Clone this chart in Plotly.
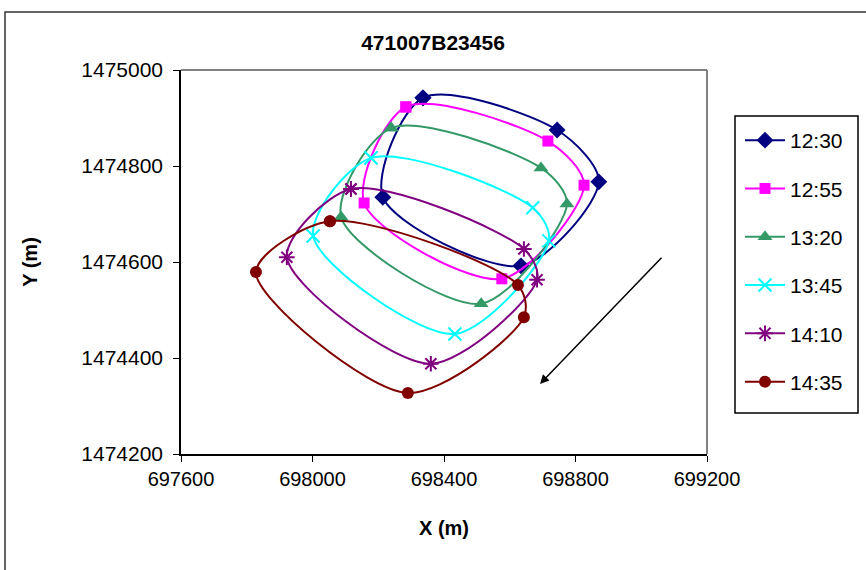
import plotly.graph_objects as go

# ---- data ----
series_names = ["12:30", "12:55", "13:20", "13:45", "14:10", "14:35"]

x_1230 = [698336, 698744, 698871, 698634, 698214, 698336]
y_1230 = [1474942, 1474875, 1474767, 1474592, 1474735, 1474942]

x_1255 = [698284, 698716, 698826, 698576, 698157, 698284]
y_1255 = [1474923, 1474852, 1474760, 1474565, 1474723, 1474923]

x_1320 = [698239, 698695, 698774, 698513, 698087, 698239]
y_1320 = [1474879, 1474796, 1474721, 1474513, 1474694, 1474879]

x_1345 = [698178, 698670, 698719, 698433, 698002, 698178]
y_1345 = [1474817, 1474713, 1474644, 1474450, 1474654, 1474817]

x_1410 = [698117, 698643, 698683, 698360, 697922, 698117]
y_1410 = [1474752, 1474627, 1474563, 1474388, 1474610, 1474752]

x_1435 = [698053, 698625, 698643, 698290, 697828, 698053]
y_1435 = [1474685, 1474552, 1474485, 1474327, 1474579, 1474685]

x_ticks = [697600, 698000, 698400, 698800, 699200]
y_ticks = [1474200, 1474400, 1474600, 1474800, 1475000]

arrow_start = (699066, 1474612)
arrow_end = (698692, 1474346)

# ---- styles ----
colors = ["#000080", "#FF00FF", "#339966", "#00FFFF", "#800080", "#800000"]
symbols = ["diamond", "square", "triangle-up", "x-thin-open", "asterisk-open", "circle"]
sizes = [13, 11, 13, 13, 13, 12]

xs = [x_1230, x_1255, x_1320, x_1345, x_1410, x_1435]
ys = [y_1230, y_1255, y_1320, y_1345, y_1410, y_1435]

FONT = "Liberation Sans, Arial, sans-serif"

fig = go.Figure()
for i, name in enumerate(series_names):
    open_sym = symbols[i].endswith("open")
    fig.add_trace(go.Scatter(
        x=xs[i], y=ys[i], name=name, mode="lines+markers",
        legendgroup=name,
        line=dict(color=colors[i], width=2, shape="spline", smoothing=0.85),
        marker=dict(symbol=symbols[i], size=sizes[i], color=colors[i],
                    line=dict(color=colors[i], width=2 if open_sym else 0)),
    ))

L, R, T, B = 181, 707, 70, 454
W, H = 866, 570
pw, ph = R - L, B - T

def px(xp):
    return (xp - L) / pw

def py(yp):
    return (B - yp) / ph

fig.update_layout(
    width=W, height=H,
    margin=dict(l=L, r=W - R, t=T, b=H - B, pad=0),
    paper_bgcolor="white", plot_bgcolor="white",
    font=dict(family=FONT, size=20, color="black"),
    title=dict(text="<b>471007B23456</b>", x=433 / W, xanchor="center",
               y=1 - 43 / H, yanchor="middle", font=dict(size=21)),
    showlegend=True,
    legend=dict(x=px(740), y=py(120), xanchor="left", yanchor="top",
                borderwidth=0, bgcolor="rgba(0,0,0,0)",
                font=dict(size=21), tracegroupgap=18,
                traceorder="grouped", itemwidth=40),
    xaxis=dict(range=[697600, 699200], tickvals=x_ticks, tickformat="d",
               showgrid=False, zeroline=False, showline=True, linecolor="black",
               linewidth=1.5, ticks="outside", ticklen=6, tickcolor="black",
               tickfont=dict(size=20),
               title=dict(text="<b>X (m)</b>", font=dict(size=20), standoff=32)),
    yaxis=dict(range=[1474200, 1475000], tickvals=y_ticks, tickformat="d",
               showgrid=False, zeroline=False, showline=True, linecolor="black",
               linewidth=1.5, ticks="outside", ticklen=6, tickcolor="black",
               tickfont=dict(size=21), ticklabelstandoff=6,
               title=dict(text="<b>Y (m)</b>", font=dict(size=20), standoff=38)),
    shapes=[
        # plot-area border top/right (gray)
        dict(type="line", xref="paper", yref="paper", x0=0, x1=1, y0=1, y1=1,
             line=dict(color="#808080", width=2)),
        dict(type="line", xref="paper", yref="paper", x0=1, x1=1, y0=0, y1=1,
             line=dict(color="#808080", width=2)),
        # legend box
        dict(type="rect", xref="paper", yref="paper",
             x0=px(735), x1=px(858), y0=py(116), y1=py(413),
             line=dict(color="black", width=1.5)),
        # chart-area outer border
        dict(type="rect", xref="paper", yref="paper",
             x0=px(5), x1=px(880), y0=py(12), y1=py(590),
             line=dict(color="#333333", width=1.5)),
    ],
    annotations=[
        dict(x=arrow_end[0], y=arrow_end[1], ax=arrow_start[0], ay=arrow_start[1],
             xref="x", yref="y", axref="x", ayref="y", text="",
             showarrow=True, arrowhead=2, arrowsize=1.2, arrowwidth=1.5,
             arrowcolor="black"),
    ],
)

fig.write_html("out.html")
